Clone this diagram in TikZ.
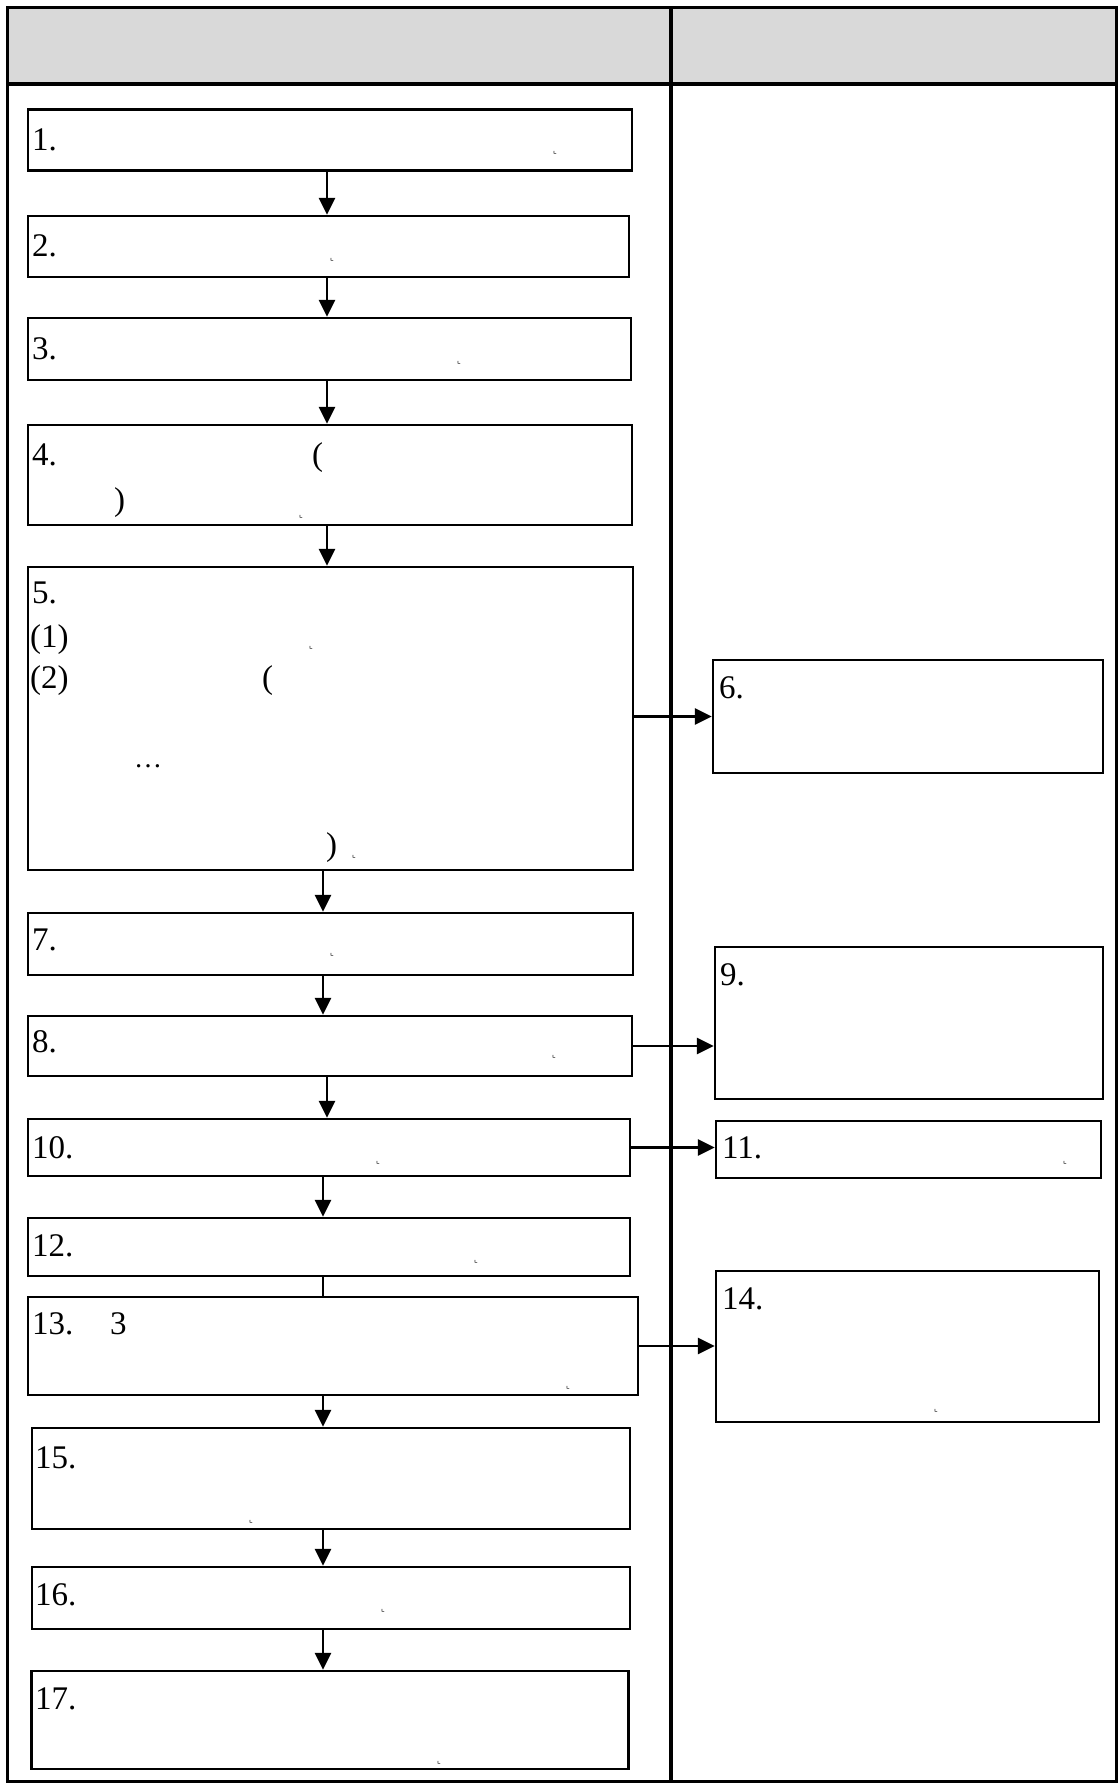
\documentclass[tikz,border=0pt]{standalone}
\usepackage{fontspec}
\setmainfont{Liberation Serif}
\newfontfamily\symfont{DejaVu Sans}
\usetikzlibrary{arrows.meta}
\tikzset{
  stepbox/.style={draw=black, line width=2.5pt, fill=white, inner sep=0pt},
  lbl/.style={anchor=base west, inner sep=0pt, font=\fontsize{33}{40}\selectfont},
  mk/.style={anchor=base west, inner sep=0pt, font=\symfont\fontsize{8}{8}\selectfont},
  arr/.style={line width=2.8pt, -{Triangle[length=17pt,width=16pt]}},
  link/.style={line width=2.8pt},
  frame/.style={line width=3.5pt},
  rule/.style={line width=3.2pt}
}
\definecolor{headgray}{RGB}{217,217,217}
\begin{document}
\begin{tikzpicture}[x=1pt,y=-1pt]
\useasboundingbox (0,0) rectangle (1118,1783);
% table
\fill[headgray] (7,7) rectangle (1117,84);
\draw[rule] (7,84) -- (1117,84);
\draw[rule] (671,7) -- (671,1783);
\draw[frame] (7.5,7.5) rectangle (1117,1782);
% boxes
\node[stepbox, minimum width=604pt, minimum height=61pt] (b1) at (330,140) {};
\node[stepbox, minimum width=601pt, minimum height=61pt] (b2) at (328.5,246.5) {};
\node[stepbox, minimum width=603pt, minimum height=62pt] (b3) at (329.5,349) {};
\node[stepbox, minimum width=604pt, minimum height=100pt] (b4) at (330,475) {};
\node[stepbox, minimum width=605pt, minimum height=303pt] (b5) at (330.5,718.5) {};
\node[stepbox, minimum width=390pt, minimum height=113pt] (b6) at (908,716.5) {};
\node[stepbox, minimum width=605pt, minimum height=62pt] (b7) at (330.5,944) {};
\node[stepbox, minimum width=604pt, minimum height=60pt] (b8) at (330,1046) {};
\node[stepbox, minimum width=388pt, minimum height=152pt] (b9) at (909,1023) {};
\node[stepbox, minimum width=602pt, minimum height=57pt] (b10) at (329,1147.5) {};
\node[stepbox, minimum width=385pt, minimum height=57pt] (b11) at (908.5,1149.5) {};
\node[stepbox, minimum width=602pt, minimum height=58pt] (b12) at (329,1247) {};
\node[stepbox, minimum width=610pt, minimum height=98pt] (b13) at (333,1346) {};
\node[stepbox, minimum width=383pt, minimum height=151pt] (b14) at (907.5,1346.5) {};
\node[stepbox, minimum width=598pt, minimum height=101pt] (b15) at (331,1478.5) {};
\node[stepbox, minimum width=598pt, minimum height=62pt] (b16) at (331,1598) {};
\node[stepbox, minimum width=597pt, minimum height=98pt] (b17) at (330,1720) {};
% texts
\node[lbl] (t1) at (32,150) {1.};
\node[mk] (m1) at (553,153) {⌞};
\node[lbl] (t2) at (32,256) {2.};
\node[mk] (m2) at (330,260) {⌞};
\node[lbl] (t3) at (32,359) {3.};
\node[mk] (m3) at (457,363) {⌞};
\node[lbl] (t4) at (32,465) {4.};
\node[lbl] (t4a) at (312,465) {(};
\node[lbl] (t4b) at (114,510) {)};
\node[mk] (m4) at (299,517) {⌞};
\node[lbl] (t5) at (32,603) {5.};
\node[lbl] (t5a) at (30,647) {(1)};
\node[mk] (m5a) at (309,648) {⌞};
\node[lbl] (t5b) at (30,688) {(2)};
\node[lbl] (t5c) at (262,688) {(};
\node[lbl, font=\fontsize{28}{34}\selectfont] (t5d) at (134,767) {…};
\node[lbl] (t5e) at (326,855) {)};
\node[mk] (m5b) at (352,857) {⌞};
\node[lbl] (t6) at (719,698) {6.};
\node[lbl] (t7) at (32,950) {7.};
\node[mk] (m7) at (330,955) {⌞};
\node[lbl] (t8) at (32,1052) {8.};
\node[mk] (m8) at (552,1057) {⌞};
\node[lbl] (t9) at (720,985) {9.};
\node[lbl] (t10) at (32,1158) {10.};
\node[mk] (m10) at (376,1163) {⌞};
\node[lbl] (t11) at (722,1158) {11.};
\node[mk] (m11) at (1063,1163) {⌞};
\node[lbl] (t12) at (32,1256) {12.};
\node[mk] (m12) at (474,1262) {⌞};
\node[lbl] (t13) at (32,1334) {13.};
\node[lbl] (t13a) at (110,1334) {3};
\node[mk] (m13) at (566,1388) {⌞};
\node[lbl] (t14) at (722,1309) {14.};
\node[mk] (m14) at (934,1411) {⌞};
\node[lbl] (t15) at (35,1468) {15.};
\node[mk] (m15) at (249,1522) {⌞};
\node[lbl] (t16) at (35,1605) {16.};
\node[mk] (m16) at (381,1611) {⌞};
\node[lbl] (t17) at (35,1709) {17.};
\node[mk] (m17) at (437,1763) {⌞};
% connector columns
\coordinate (ca) at (327,0);
\coordinate (cb) at (323,0);
% vertical connectors
\draw[arr] (b1.south -| ca) -- (b2.north -| ca);
\draw[arr] (b2.south -| ca) -- (b3.north -| ca);
\draw[arr] (b3.south -| ca) -- (b4.north -| ca);
\draw[arr] (b4.south -| ca) -- (b5.north -| ca);
\draw[arr] (b5.south -| cb) -- (b7.north -| cb);
\draw[arr] (b7.south -| cb) -- (b8.north -| cb);
\draw[arr] (b8.south -| ca) -- (b10.north -| ca);
\draw[arr] (b10.south -| cb) -- (b12.north -| cb);
\draw[link] (b12.south -| cb) -- (b13.north -| cb);
\draw[arr] (b13.south -| cb) -- (b15.north -| cb);
\draw[arr] (b15.south -| cb) -- (b16.north -| cb);
\draw[arr] (b16.south -| cb) -- (b17.north -| cb);
% horizontal connectors
\draw[arr] (b5.east |- b6.west) -- (b6.west);
\draw[arr] (b8.east) -- (b8.east -| b9.west);
\draw[arr] (b10.east) -- (b10.east -| b11.west);
\draw[arr] (b13.east) -- (b13.east -| b14.west);
\end{tikzpicture}
\end{document}
